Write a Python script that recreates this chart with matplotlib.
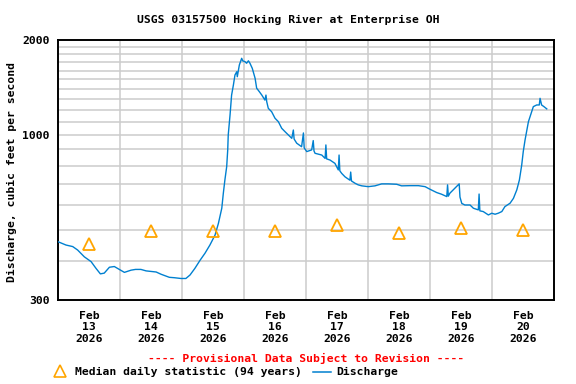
import matplotlib
matplotlib.use("Agg")
import matplotlib.pyplot as plt
from matplotlib.ticker import NullFormatter, FixedLocator

plt.rcParams['font.family'] = 'DejaVu Sans Mono'
plt.rcParams['font.weight'] = 'bold'

# hours since Feb 13 2026 00:00, discharge in cfs
hours = [0, 3.1, 5.7, 7.6, 10.2, 12.8, 14.7, 16.4, 17.9, 19.9, 21.8, 23.7, 25.7,
         28.3, 30.0, 32.1, 34.1, 36.7, 38.0, 39.9, 43.1, 45.0, 47.6, 49.5, 51.1,
         53.0, 55.0, 56.9, 58.8, 60.8, 62.1, 63.4, 64.0, 64.6, 65.3, 65.7, 65.9,
         66.6, 67.2, 67.9, 68.5, 69.2, 69.4, 70.2, 71.1, 71.5, 72.4, 73.0, 73.7,
         74.3, 75.2, 76.3, 76.9, 77.9, 78.9, 80.1, 80.5, 80.8, 81.4, 82.7, 84.0,
         85.3, 86.6, 87.9, 89.2, 90.5, 91.1, 91.4, 92.4, 94.3, 95.0, 95.3, 96.3,
         98.2, 98.8, 99.1, 99.5, 102.1, 103.4, 103.7, 104.0, 105.3, 107.2, 108.5,
         108.8, 109.1, 109.8, 111.1, 113.0, 113.3, 113.6, 115.0, 116.2, 117.6,
         120.1, 122.7, 125.3, 127.9, 131.1, 133.0, 136.3, 139.5, 142.1, 144.0,
         146.6, 148.5, 150.5, 150.8, 151.1, 151.7, 153.0, 155.0, 155.3, 155.6,
         156.3, 157.5, 159.5, 160.8, 162.7, 163.0, 163.3, 164.6, 166.6, 167.9,
         169.2, 170.4, 171.8, 173.0, 175.0, 176.3, 177.6, 178.6, 179.5, 180.1,
         180.8, 181.4, 182.1, 182.7, 183.4, 184.0, 185.3, 186.3, 186.6, 187.2,
         188.1, 189.2]
discharge = [459, 448, 443, 432, 411, 397, 378, 363, 365, 381, 383, 375, 367,
             373, 375, 375, 371, 369, 368, 362, 354, 353, 351, 351, 360,
             378, 401, 422, 448, 482, 525, 586, 654, 720, 794, 897, 1000,
             1158, 1338, 1441, 1549, 1587, 1530, 1667, 1750, 1718, 1707, 1688, 1718,
             1688, 1627, 1512, 1407, 1373, 1338, 1290, 1338, 1275, 1215, 1185, 1130,
             1102, 1050, 1024, 1000, 976, 1037, 971, 942, 918, 1015, 910, 886,
             897, 960, 890, 875, 864, 843, 930, 840, 833, 813, 775,
             864, 770, 756, 737, 719, 763, 715, 703, 695, 690,
             686, 690, 700, 700, 698, 690, 691, 691, 686, 673,
             657, 649, 638, 695, 640, 654, 670, 695, 700, 636,
             607, 600, 600, 586, 579, 650, 575, 572, 558, 565,
             561, 565, 572, 593, 608, 630, 670, 720, 803, 886,
             965, 1024, 1102, 1140, 1185, 1230, 1245, 1245, 1307, 1245,
             1230, 1210]

median_hours = [12, 36, 60, 84, 108, 132, 156, 180]
median_vals = [450, 498, 498, 497, 520, 490, 509, 501]

day_labels = ["Feb\n13\n2026", "Feb\n14\n2026", "Feb\n15\n2026", "Feb\n16\n2026",
              "Feb\n17\n2026", "Feb\n18\n2026", "Feb\n19\n2026", "Feb\n20\n2026"]

fig = plt.figure(figsize=(5.76, 3.84), dpi=100)
ax = fig.add_axes([58/576, 1 - 300/384, 496/576, 260/384])

ax.set_yscale('log')
ax.set_ylim(300, 2000)
ax.set_xlim(0, 192)

minor = [v for v in range(400, 2000, 100) if v != 1000]
ax.yaxis.set_major_locator(FixedLocator([300, 1000, 2000]))
ax.yaxis.set_minor_locator(FixedLocator(minor))
ax.yaxis.set_minor_formatter(NullFormatter())
ax.set_yticklabels(["300", "1000", "2000"])
for v in minor + [1000]:
    ax.axhline(v, color='#cccccc', lw=1.1, zorder=0)
for d in range(24, 192, 24):
    ax.axvline(d, color='#cccccc', lw=1.1, zorder=0)

ax.set_xticks(median_hours)
ax.set_xticklabels(day_labels, linespacing=1.15)
ax.tick_params(axis='both', which='both', length=0, labelsize=8.2)
ax.tick_params(axis='x', pad=8)
ax.tick_params(axis='y', pad=6)

ax.plot(hours, discharge, color='#0080d0', lw=1.0, zorder=3)
ax.plot(median_hours, median_vals, linestyle='none', marker='^', markersize=8.5,
        markerfacecolor='none', markeredgecolor='#ffa500', markeredgewidth=1.3, zorder=4)

for s in ax.spines.values():
    s.set_linewidth(1.4)

fig.text(0.5, 1 - 20/384, "USGS 03157500 Hocking River at Enterprise OH",
         ha='center', va='center', fontsize=8.2)
fig.text(12/576, 1 - 172/384, "Discharge, cubic feet per second", rotation=90,
         ha='center', va='center', fontsize=8.2)
fig.text(306/576, 1 - 358/384, "---- Provisional Data Subject to Revision ----",
         ha='center', va='center', fontsize=8.2, color='red')

fig.lines.append(plt.Line2D([60/576], [1 - 371/384], transform=fig.transFigure,
                            marker='^', markersize=8, markerfacecolor='none',
                            markeredgecolor='#ffa500', markeredgewidth=1.2))
fig.text(75/576, 1 - 372/384, "Median daily statistic (94 years)",
         ha='left', va='center', fontsize=8.2)
fig.lines.append(plt.Line2D([313/576, 331/576], [1 - 372/384, 1 - 372/384],
                            transform=fig.transFigure, color='#0080d0', lw=1.1))
fig.text(336/576, 1 - 372/384, "Discharge", ha='left', va='center', fontsize=8.2)

fig.savefig("out.png", dpi=100)
